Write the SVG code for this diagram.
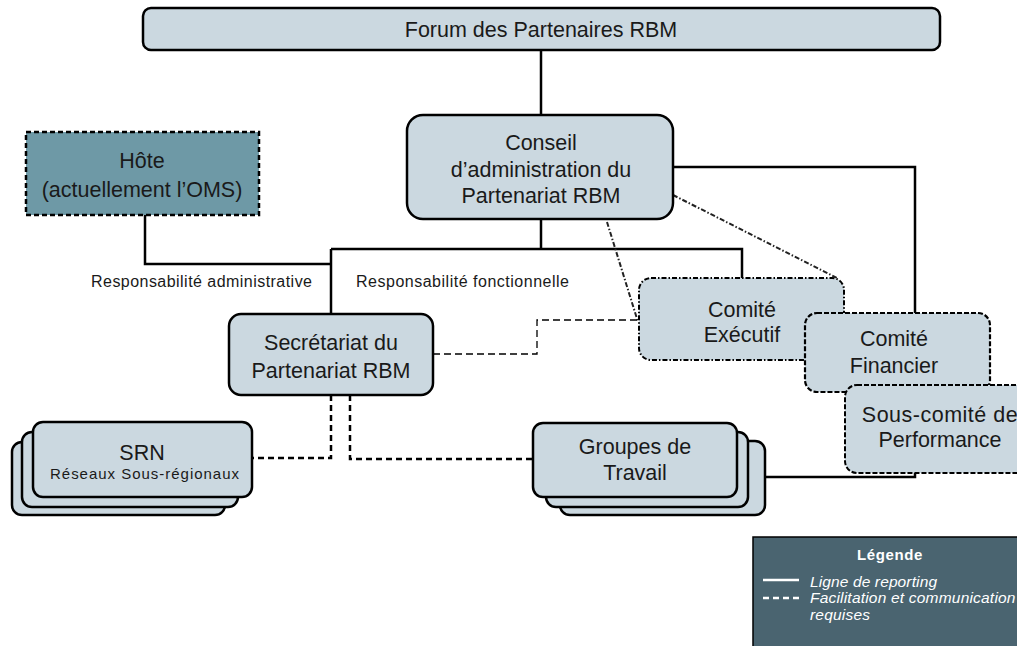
<svg xmlns="http://www.w3.org/2000/svg" width="1017" height="646" viewBox="0 0 1017 646">
<style>
text{font-family:"Liberation Sans",Arial,sans-serif;fill:#1a1a1a}
.big{font-size:21.5px;text-anchor:middle}
.sm{font-size:16px}
.box{fill:#cbd8e0;stroke:#000;stroke-width:2.5}
.solid{fill:none;stroke:#000;stroke-width:2.5}
.thick-dash{fill:none;stroke:#000;stroke-width:2.5;stroke-dasharray:6 4}
.thin-dash{fill:none;stroke:#000;stroke-width:1.3;stroke-dasharray:7 4}
.dashdot{fill:none;stroke:#222;stroke-width:2;stroke-dasharray:5 2 1.5 2}
.leg{fill:#fff;font-style:italic;font-size:15.5px}
</style>
<rect width="1017" height="646" fill="#fff"/>
<g id="connectors">
<path class="solid" d="M541 50V115"/>
<path class="solid" d="M541 219V249"/>
<path class="solid" d="M331 249H742V278"/>
<path class="solid" d="M331 249V314"/>
<path class="solid" d="M145 215V264H331"/>
<path class="solid" d="M673 167H915V477H765"/>
<path class="thin-dash" d="M433 354H537V320H638"/>
<path class="thick-dash" d="M331 395V458H252"/>
<path class="thick-dash" d="M350 395V459H533"/>
<path class="dashdot" d="M673 195L837 278"/>
<path class="dashdot" d="M607 222L638 322"/>
</g>
<g id="forum">
<rect class="box" x="143" y="8" width="797" height="42" rx="8"/>
<text class="big" x="541" y="37" font-size="20.5">Forum des Partenaires RBM</text>
</g>
<g id="conseil">
<rect class="box" x="407" y="115" width="266" height="104" rx="16"/>
<text class="big" x="541" y="150">Conseil</text>
<text class="big" x="541" y="177">d’administration du</text>
<text class="big" x="541" y="203">Partenariat RBM</text>
</g>
<g id="hote">
<rect x="26" y="132" width="233" height="83" fill="#6e99a6" stroke="#000" stroke-width="2.5" stroke-dasharray="5 3"/>
<text class="big" x="142" y="168">Hôte</text>
<text class="big" x="142" y="197">(actuellement l’OMS)</text>
</g>
<g id="labels">
<text class="sm" x="91" y="287" textLength="221" lengthAdjust="spacing">Responsabilité administrative</text>
<text class="sm" x="356" y="287" textLength="213" lengthAdjust="spacing">Responsabilité fonctionnelle</text>
</g>
<g id="secretariat">
<rect class="box" x="229" y="314" width="204" height="81" rx="12"/>
<text class="big" x="331" y="350">Secrétariat du</text>
<text class="big" x="331" y="378">Partenariat RBM</text>
</g>
<g id="srn">
<rect class="box" x="12" y="442" width="213" height="73" rx="10"/>
<rect class="box" x="22" y="432" width="216" height="75" rx="10"/>
<rect class="box" x="33" y="422" width="219" height="75" rx="10"/>
<text class="big" x="142" y="460">SRN</text>
<text x="50" y="479" font-size="15" textLength="189" lengthAdjust="spacing">Réseaux Sous-régionaux</text>
</g>
<g id="groupes">
<rect class="box" x="560" y="441" width="205" height="74" rx="10"/>
<rect class="box" x="546" y="432" width="202" height="75" rx="10"/>
<rect class="box" x="533" y="423" width="204" height="74" rx="10"/>
<text class="big" x="635" y="454">Groupes de</text>
<text class="big" x="635" y="480">Travail</text>
</g>
<g id="executif">
<rect x="639" y="278" width="205" height="82" rx="12" fill="#cbd8e0" stroke="#000" stroke-width="2" stroke-dasharray="5 2 1.5 2"/>
<text class="big" x="742" y="317">Comité</text>
<text class="big" x="742" y="342">Exécutif</text>
</g>
<g id="financier">
<rect x="805" y="313" width="185" height="79" rx="12" fill="#cbd8e0" stroke="#000" stroke-width="2.2" stroke-dasharray="5 2"/>
<text class="big" x="894" y="346">Comité</text>
<text class="big" x="894" y="373">Financier</text>
</g>
<g id="souscomite">
<rect x="845" y="385" width="190" height="88" rx="12" fill="#cbd8e0" stroke="#000" stroke-width="2" stroke-dasharray="5 2"/>
<text class="big" x="940" y="422" letter-spacing="0.5">Sous-comité de</text>
<text class="big" x="940" y="447">Performance</text>
</g>
<g id="legende">
<rect x="753" y="537" width="280" height="120" fill="#4a6470" stroke="#000" stroke-width="1.5"/>
<text x="890" y="560" font-size="15" font-weight="bold" text-anchor="middle" style="fill:#fff" letter-spacing="0.6">Légende</text>
<line x1="763" y1="580" x2="799" y2="580" stroke="#fff" stroke-width="2.5"/>
<text class="leg" x="810" y="587" textLength="127" lengthAdjust="spacing">Ligne de reporting</text>
<line x1="763" y1="598" x2="799" y2="598" stroke="#fff" stroke-width="2.5" stroke-dasharray="6 4"/>
<text class="leg" x="810" y="603" letter-spacing="0.2">Facilitation et communication</text>
<text class="leg" x="810" y="620" letter-spacing="0.2">requises</text>
</g>
</svg>
